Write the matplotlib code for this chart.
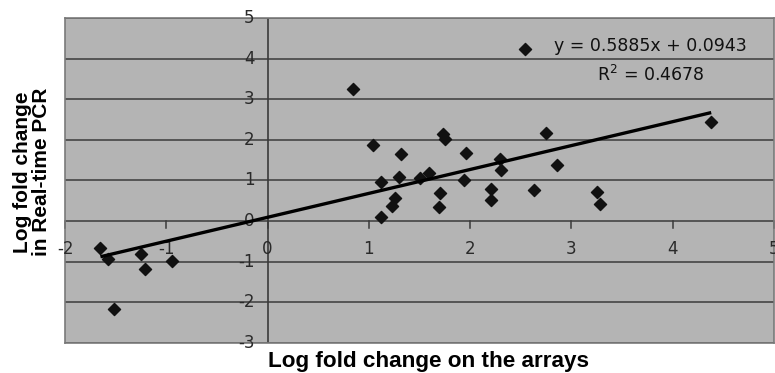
import matplotlib
matplotlib.use("Agg")
import matplotlib.pyplot as plt
import numpy as np

# log fold change: arrays (x) vs real-time PCR (y)
array_fc = [-1.65, -1.58, -1.52, -1.25, -1.21, -0.94, 0.84, 1.04, 1.12, 1.12,
            1.23, 1.26, 1.30, 1.32, 1.50, 1.59, 1.69, 1.70, 1.73, 1.75,
            1.94, 1.96, 2.21, 2.21, 2.29, 2.30, 2.54, 2.63, 2.75, 2.86,
            3.25, 3.28, 4.38]
pcr_fc = [-0.66, -0.93, -2.16, -0.80, -1.18, -0.97, 3.25, 1.87, 0.96, 0.10,
          0.36, 0.57, 1.09, 1.64, 1.05, 1.19, 0.35, 0.70, 2.14, 2.03,
          1.02, 1.68, 0.80, 0.51, 1.52, 1.27, 4.23, 0.76, 2.17, 1.39,
          0.72, 0.43, 2.44]

slope = 0.5885
intercept = 0.0943
r_squared = 0.4678

x_ticks = [-2, -1, 0, 1, 2, 3, 4, 5]
y_ticks = [-3, -2, -1, 0, 1, 2, 3, 4, 5]

fig = plt.figure(figsize=(7.75, 3.73), dpi=100)
ax = fig.add_axes([65 / 775, 1 - 343 / 373, 709 / 775, 325 / 373])
ax.set_facecolor("#b4b4b4")
ax.set_xlim(-2, 5)
ax.set_ylim(-3, 5)

# horizontal gridlines
for yv in y_ticks:
    ax.axhline(yv, color="#454545", lw=1.2, zorder=1)
ax.axvline(0, color="#3a3a3a", lw=1.2, zorder=1)

for s in ax.spines.values():
    s.set_color("#7a7a7a")
    s.set_linewidth(1.2)

ax.set_xticks([])
ax.set_yticks([])

# tick marks and labels placed at the zero axes, like Excel does
for xv in x_ticks:
    ax.plot([xv, xv], [0, -0.17], color="#3a3a3a", lw=1.1, zorder=2, clip_on=False)
    ax.text(xv, -0.68, str(xv), ha="center", va="center", fontsize=12,
            color="#2a2a2a", zorder=3, clip_on=False)
for yv in y_ticks:
    ax.text(-0.13, yv, str(yv), ha="right", va="center", fontsize=12,
            color="#2a2a2a", zorder=3, clip_on=False)

ax.scatter(array_fc, pcr_fc, marker="D", s=38, color="#111111", zorder=4)

xs = np.array([min(array_fc), max(array_fc)])
ax.plot(xs, slope * xs + intercept, color="black", lw=2.4, zorder=5,
        solid_capstyle="butt")

ax.text(3.78, 4.32, "y = %.4fx + %.4f" % (slope, intercept), ha="center",
        va="center", fontsize=12.5, color="#111111", zorder=6)
ax.text(3.78, 3.6, "R$^2$ = %.4f" % r_squared, ha="center", va="center",
        fontsize=12.5, color="#111111", zorder=6)

fig.text(428 / 775, 1 - 362 / 373, "Log fold change on the arrays",
         ha="center", va="center", fontsize=16.2, fontweight="bold",
         family="Liberation Sans")
fig.text(32 / 775, 1 - 172 / 373, "Log fold change\nin Real-time PCR",
         ha="center", va="center", rotation=90, fontsize=15,
         fontweight="bold", family="Liberation Sans", linespacing=0.95)

fig.savefig("out.png", dpi=100)
